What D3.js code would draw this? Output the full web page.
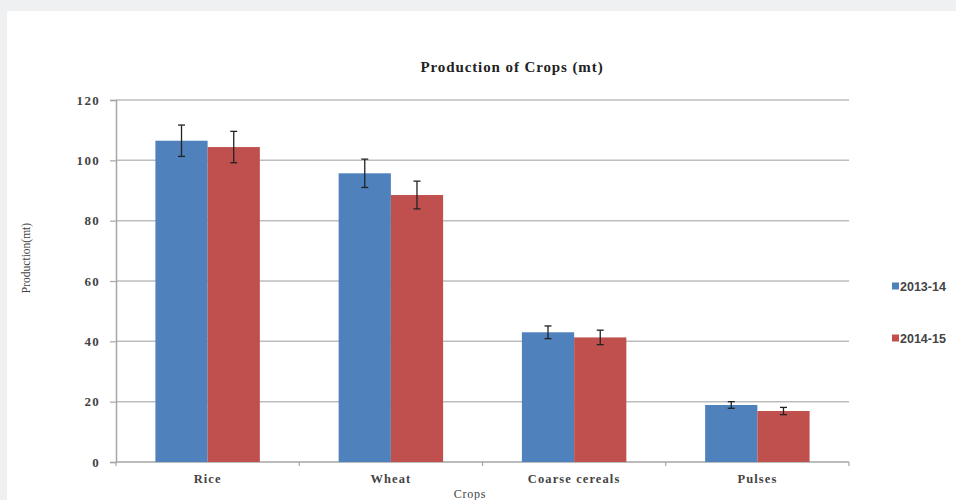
<!DOCTYPE html>
<html><head><meta charset="utf-8">
<script src="https://cdn.jsdelivr.net/npm/d3@7"></script>
<style>
html,body{margin:0;padding:0;background:#eff0f2;overflow:hidden;}
svg{display:block;}
</style></head>
<body>
<script>
const categories = ["Rice", "Wheat", "Coarse cereals", "Pulses"];
const seriesNames = ["2013-14", "2014-15"];
const values2013 = [106.5, 95.7, 43.0, 18.9];
const values2014 = [104.4, 88.5, 41.3, 16.9];
const errors2013 = [5.2, 4.7, 2.1, 1.1];
const errors2014 = [5.2, 4.6, 2.4, 1.2];
const yTicks = [0, 20, 40, 60, 80, 100, 120];
const colors = ["#4f81bd", "#c0504d"];

(function () {
const W = 956, H = 500;
const svg = d3.select("body").append("svg").attr("width", W).attr("height", H);
svg.append("rect").attr("x", 7).attr("y", 11).attr("width", W - 7).attr("height", H - 11).attr("fill", "#ffffff");

const pLeft = 116, pRight = 849, pTop = 100, pBottom = 462;
const x = d3.scaleBand().domain(categories).range([pLeft, pRight]).paddingInner(0.43).paddingOuter(0.215);
const xs = d3.scaleBand().domain(seriesNames).range([0, x.bandwidth()]);
const y = d3.scaleLinear().domain([0, 120]).range([pBottom, pTop]);

const serif = "'Liberation Serif','DejaVu Serif',serif";

// gridlines
svg.append("g").selectAll("line").data(yTicks.filter(d => d > 0)).join("line")
  .attr("x1", pLeft).attr("x2", pRight).attr("y1", d => y(d)).attr("y2", d => y(d))
  .attr("stroke", "#bdbdbd").attr("stroke-width", 1.5);

// y axis
const yAxis = d3.axisLeft(y).tickValues(yTicks).tickSize(6).tickPadding(10);
const gy = svg.append("g").attr("transform", `translate(${pLeft},0)`).call(yAxis);
gy.select(".domain").attr("stroke", "#a6a6a6").attr("stroke-width", 1.5);
gy.selectAll(".tick line").attr("stroke", "#a6a6a6").attr("stroke-width", 1.2);
gy.selectAll(".tick text").attr("font-family", serif).attr("font-size", 13).attr("font-weight", "bold")
  .attr("fill", "#444").attr("letter-spacing", 1.3);

// x axis
const gx = svg.append("g").attr("transform", `translate(0,${pBottom})`);
gx.append("line").attr("x1", pLeft).attr("x2", pRight).attr("stroke", "#a6a6a6").attr("stroke-width", 1.5);
const bounds = [pLeft].concat(categories.map((c, i) => pLeft + (pRight - pLeft) * (i + 1) / categories.length));
gx.selectAll(".tk").data(bounds).join("line").attr("class", "tk")
  .attr("x1", d => d).attr("x2", d => d).attr("y1", 0).attr("y2", 4)
  .attr("stroke", "#a6a6a6").attr("stroke-width", 1.2);
gx.selectAll("text").data(categories).join("text")
  .attr("x", d => x(d) + x.bandwidth() / 2).attr("y", 21)
  .attr("text-anchor", "middle").attr("font-family", serif).attr("font-size", 12.5)
  .attr("font-weight", "bold").attr("fill", "#444").attr("letter-spacing", 1.1).text(d => d);

// bars
const data = categories.map((c, i) => ({
  cat: c,
  vals: [
    {s: seriesNames[0], v: values2013[i], e: errors2013[i], c: colors[0]},
    {s: seriesNames[1], v: values2014[i], e: errors2014[i], c: colors[1]}
  ]
}));
const groups = svg.append("g").selectAll("g").data(data).join("g")
  .attr("transform", d => `translate(${x(d.cat)},0)`);
groups.selectAll("rect").data(d => d.vals).join("rect")
  .attr("x", d => xs(d.s)).attr("width", xs.bandwidth())
  .attr("y", d => y(d.v)).attr("height", d => y(0) - y(d.v)).attr("fill", d => d.c);

// error bars
const eb = groups.selectAll("g.err").data(d => d.vals).join("g").attr("class", "err")
  .attr("transform", d => `translate(${xs(d.s) + xs.bandwidth() / 2},0)`);
eb.append("line").attr("y1", d => y(d.v + d.e)).attr("y2", d => y(d.v - d.e)).attr("stroke", "#222").attr("stroke-width", 1.3);
eb.append("line").attr("x1", -3.5).attr("x2", 3.5).attr("y1", d => y(d.v + d.e)).attr("y2", d => y(d.v + d.e)).attr("stroke", "#222").attr("stroke-width", 1.3);
eb.append("line").attr("x1", -3.5).attr("x2", 3.5).attr("y1", d => y(d.v - d.e)).attr("y2", d => y(d.v - d.e)).attr("stroke", "#222").attr("stroke-width", 1.3);

// title
svg.append("text").attr("x", 512).attr("y", 72).attr("text-anchor", "middle")
  .attr("font-family", serif).attr("font-size", 15).attr("font-weight", "bold").attr("fill", "#222")
  .attr("letter-spacing", 0.9).text("Production of Crops (mt)");

// y label
svg.append("text").attr("transform", "translate(30,258) rotate(-90)").attr("text-anchor", "middle")
  .attr("font-family", serif).attr("font-size", 11.5).attr("fill", "#444").text("Production(mt)");

// x label
svg.append("text").attr("x", 470).attr("y", 498).attr("text-anchor", "middle")
  .attr("font-family", serif).attr("font-size", 12).attr("fill", "#444").attr("letter-spacing", 0.8).text("Crops");

// legend
const leg = svg.append("g").selectAll("g").data(seriesNames).join("g")
  .attr("transform", (d, i) => `translate(892,${286 + i * 52})`);
leg.append("rect").attr("x", 0).attr("y", -3.5).attr("width", 7).attr("height", 7).attr("fill", (d, i) => colors[i]);
leg.append("text").attr("x", 8).attr("y", 4.5).attr("font-family", "'Liberation Sans','DejaVu Sans',sans-serif")
  .attr("font-size", 12.5).attr("font-weight", "bold").attr("fill", "#444").text(d => d);
})();
</script>
</body></html>
